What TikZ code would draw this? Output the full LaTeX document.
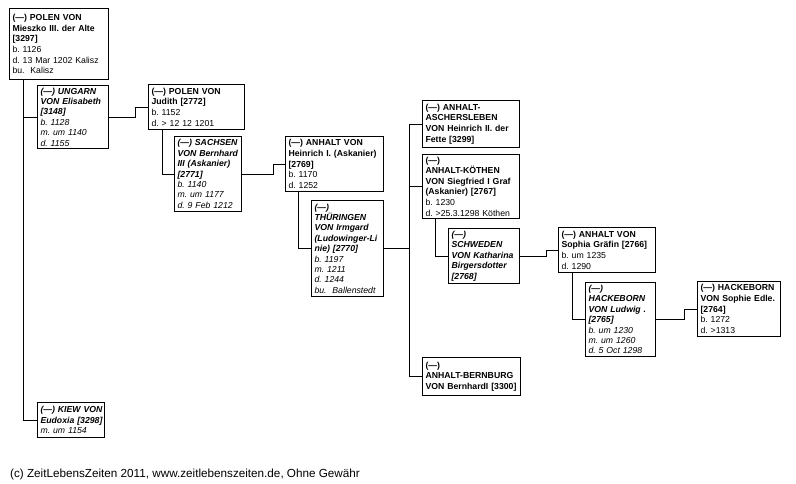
\documentclass[tikz,border=0pt]{standalone}
\usepackage{fontspec}
\setmainfont{Liberation Sans}
\newcommand\nmb[1]{\mbox{\bfseries #1}}
\newcommand\dtl[1]{\mbox{#1}}
\frenchspacing
\begin{document}
\begin{tikzpicture}[x=1pt,y=-1pt,
  pbox/.style={draw, line width=1.1pt, anchor=north west, inner xsep=3pt, inner ysep=1.5pt,
    align=left, font=\fontsize{8.7}{10.6}\selectfont\frenchspacing},
  sbox/.style={pbox, font=\fontsize{8.7}{10.4}\selectfont\itshape\frenchspacing},
  link/.style={line width=0.9pt}]
\useasboundingbox (0,0) rectangle (796,484);

\node[pbox, text width=93pt, minimum height=71pt] (mieszko) at (9,8)
  {\nmb{(---) POLEN VON}\\\nmb{Mieszko III. der Alte}\\\nmb{[3297]}\\\dtl{b. 1126}\\\dtl{d. 13 Mar 1202 Kalisz}\\\dtl{bu.\ \ Kalisz}};
\node[sbox, text width=65pt, minimum height=63pt] (ungarn) at (37,85)
  {\nmb{(---) UNGARN}\\\nmb{VON Elisabeth}\\\nmb{[3148]}\\\dtl{b. 1128}\\\dtl{m. um 1140}\\\dtl{d. 1155}};
\node[sbox, text width=61pt, minimum height=35pt] (kiew) at (37,402)
  {\nmb{(---) KIEW VON}\\\nmb{Eudoxia [3298]}\\\dtl{m. um 1154}};
\node[pbox, text width=90pt, minimum height=45pt] (judith) at (148,84)
  {\nmb{(---) POLEN VON}\\\nmb{Judith [2772]}\\\dtl{b. 1152}\\\dtl{d. > 12 12 1201}};
\node[sbox, text width=61pt, minimum height=75pt] (sachsen) at (174,136)
  {\nmb{(---) SACHSEN}\\\nmb{VON Bernhard}\\\nmb{III (Askanier)}\\\nmb{[2771]}\\\dtl{b. 1140}\\\dtl{m. um 1177}\\\dtl{d. 9 Feb 1212}};
\node[pbox, text width=92pt, minimum height=55pt] (heinrich) at (285,136)
  {\nmb{(---) ANHALT VON}\\\nmb{Heinrich I. (Askanier)}\\\nmb{[2769]}\\\dtl{b. 1170}\\\dtl{d. 1252}};
\node[sbox, text width=66pt, minimum height=96pt] (thuer) at (311,200)
  {\nmb{(---)}\\\nmb{THÜRINGEN}\\\nmb{VON Irmgard}\\\nmb{(Ludowinger-Li}\\\nmb{nie) [2770]}\\\dtl{b. 1197}\\\dtl{m. 1211}\\\dtl{d. 1244}\\\dtl{bu.\ \ Ballenstedt}};
\node[pbox, text width=91pt, minimum height=47pt] (ascher) at (422,100)
  {\nmb{(---) ANHALT-}\\\nmb{ASCHERSLEBEN}\\\nmb{VON Heinrich II. der}\\\nmb{Fette [3299]}};
\node[pbox, text width=91pt, minimum height=64pt] (koethen) at (422,154)
  {\nmb{(---)}\\\nmb{ANHALT-KÖTHEN}\\\nmb{VON Siegfried I Graf}\\\nmb{(Askanier) [2767]}\\\dtl{b. 1230}\\\dtl{d. >25.3.1298 Köthen}};
\node[sbox, text width=65pt, minimum height=55pt] (schweden) at (448,228)
  {\nmb{(---)}\\\nmb{SCHWEDEN}\\\nmb{VON Katharina}\\\nmb{Birgersdotter}\\\nmb{[2768]}};
\node[pbox, text width=91pt, minimum height=45pt] (sophia) at (558,227)
  {\nmb{(---) ANHALT VON}\\\nmb{Sophia Gräfin [2766]}\\\dtl{b. um 1235}\\\dtl{d. 1290}};
\node[sbox, text width=64pt, minimum height=74pt] (ludwig) at (585,282)
  {\nmb{(---)}\\\nmb{HACKEBORN}\\\nmb{VON Ludwig .}\\\nmb{[2765]}\\\dtl{b. um 1230}\\\dtl{m. um 1260}\\\dtl{d. 5 Oct 1298}};
\node[pbox, text width=77pt, minimum height=55pt] (sophie) at (697,281)
  {\nmb{(---) HACKEBORN}\\\nmb{VON Sophie Edle.}\\\nmb{[2764]}\\\dtl{b. 1272}\\\dtl{d. >1313}};
\node[pbox, text width=92pt, minimum height=38pt] (bern) at (422,357)
  {\nmb{(---)}\\\nmb{ANHALT-BERNBURG}\\\nmb{VON BernhardI [3300]}};

\node[anchor=base west, inner sep=0pt, font=\fontsize{11.7}{13}\selectfont] (foot) at (10,477)
  {(c) ZeitLebensZeiten 2011, www.zeitlebenszeiten.de, Ohne Gewähr};

% connector columns
\coordinate (c0) at (23,0);
\coordinate (c1) at (135,0);
\coordinate (c2) at (162,0);
\coordinate (c3) at (273,0);
\coordinate (c4) at (298,0);
\coordinate (c5) at (409,0);
\coordinate (c6) at (435,0);
\coordinate (c7) at (546,0);
\coordinate (c8) at (572,0);
\coordinate (c9) at (684,0);

\draw[link] (c0 |- mieszko.south) -- (c0 |- kiew.west) -- (kiew.west);
\draw[link] (c0 |- ungarn.west) -- (ungarn.west);
\draw[link] (ungarn.east) -- (c1 |- ungarn.east) -- (c1 |- judith.west) -- (judith.west);
\draw[link] (c2 |- judith.south) -- (c2 |- sachsen.west) -- (sachsen.west);
\draw[link] (sachsen.east) -- (c3 |- sachsen.east) -- (c3 |- heinrich.west) -- (heinrich.west);
\draw[link] (c4 |- heinrich.south) -- (c4 |- thuer.west) -- (thuer.west);
\draw[link] (thuer.east) -- (c5 |- thuer.east);
\draw[link] (c5 |- ascher.west) -- (c5 |- bern.west);
\draw[link] (c5 |- ascher.west) -- (ascher.west);
\draw[link] (c5 |- koethen.west) -- (koethen.west);
\draw[link] (c5 |- bern.west) -- (bern.west);
\draw[link] (c6 |- koethen.south) -- (c6 |- schweden.west) -- (schweden.west);
\draw[link] (schweden.east) -- (c7 |- schweden.east) -- (c7 |- sophia.west) -- (sophia.west);
\draw[link] (c8 |- sophia.south) -- (c8 |- ludwig.west) -- (ludwig.west);
\draw[link] (ludwig.east) -- (c9 |- ludwig.east) -- (c9 |- sophie.west) -- (sophie.west);
\end{tikzpicture}
\end{document}
